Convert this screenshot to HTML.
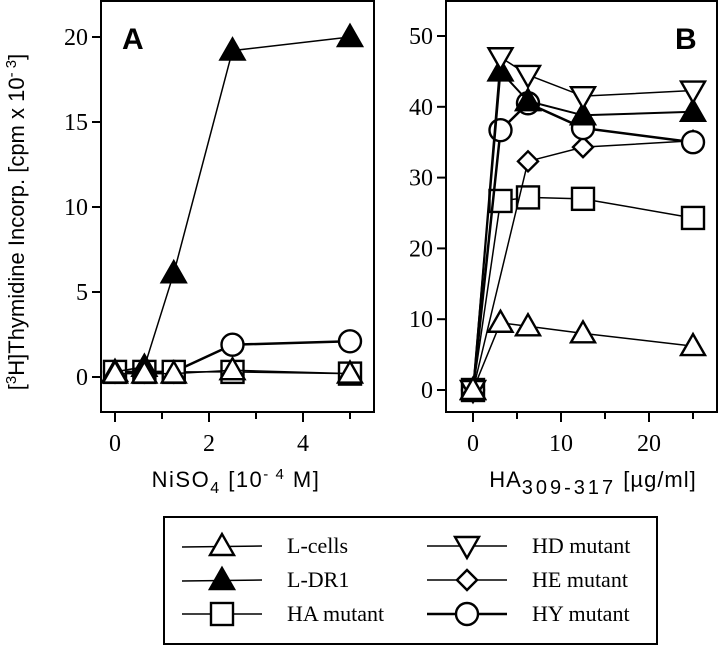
<!DOCTYPE html>
<html><head><meta charset="utf-8"><style>
body{margin:0;background:#fff;width:720px;height:646px;overflow:hidden}
svg{display:block}
.tk{font-family:"Liberation Serif",serif;font-size:24px}
.ax{font-family:"Liberation Sans",sans-serif;font-size:22px}
.lg{font-family:"Liberation Serif",serif;font-size:22px}
</style></head><body>
<svg id="c" width="720" height="646" xmlns="http://www.w3.org/2000/svg">
<rect x="101" y="1" width="273" height="411" fill="none" stroke="#000" stroke-width="2"/>
<rect x="446" y="1" width="271" height="411" fill="none" stroke="#000" stroke-width="2"/>
<text x="122" y="49" font-family="Liberation Sans,sans-serif" font-weight="bold" font-size="30">A</text>
<text x="675" y="49" font-family="Liberation Sans,sans-serif" font-weight="bold" font-size="30">B</text>
<text class="ax" transform="translate(24,222) rotate(-90)" text-anchor="middle" font-size="22">[<tspan font-size="15" dy="-8">3</tspan><tspan dy="8">H]Thymidine Incorp. [cpm x 10</tspan><tspan font-size="15" dy="-8">- 3</tspan><tspan dy="8">]</tspan></text>
<text class="ax" x="236" y="487" text-anchor="middle" letter-spacing="1.5">NiSO<tspan font-size="16" dy="6">4</tspan><tspan dy="-6"> [10</tspan><tspan font-size="15" dy="-8">- 4</tspan><tspan dy="8"> M]</tspan></text>
<text class="ax" x="593" y="487" text-anchor="middle" letter-spacing="1">HA<tspan font-size="20" dy="7" letter-spacing="3">309-317</tspan><tspan dy="-7"> [µg/ml]</tspan></text>
<rect x="164" y="517" width="493" height="127" fill="none" stroke="#000" stroke-width="2"/>
<g id="g"></g>
</svg>
<script>
// Panel A data
const xA = [0, 0.625, 1.25, 2.5, 5];
const aLcells = [0.2, 0.2, 0.2, 0.4, 0.2];
const aLDR1 = [0.3, 0.6, 6.1, 19.2, 20];
const aHA = [0.3, 0.3, 0.3, 0.3, 0.2];
const aHY = [0.3, 0.3, 0.3, 1.9, 2.1];
const yTicksA = [0, 5, 10, 15, 20];
const xTicksA = [0, 2, 4];
const xMinorA = [1, 3, 5];
// Panel B data
const xB = [0, 3.125, 6.25, 12.5, 25];
const bLcells = [0, 9.5, 9, 8, 6.2];
const bLDR1 = [0, 45, 40.8, 38.8, 39.3];
const bHA = [0, 26.7, 27.2, 27, 24.3];
const bHD = [0, 47, 44.5, 41.5, 42.3];
const bHE = [0, null, 32.3, 34.3, 35.2];
const bHY = [0, 36.7, 40.5, 37, 35];
const yTicksB = [0, 10, 20, 30, 40, 50];
const xTicksB = [0, 10, 20];
const xMinorB = [5, 15, 25];
const legendNames = ["L-cells","L-DR1","HA mutant","HD mutant","HE mutant","HY mutant"];

const NS="http://www.w3.org/2000/svg", g=document.getElementById('g');
const xa=v=>115+v*47, ya=v=>377-v*17;
const xb=v=>473+v*8.8, yb=v=>390-v*7.08;
function mk(t,at,p){const e=document.createElementNS(NS,t);for(const k in at)e.setAttribute(k,at[k]);(p||g).appendChild(e);return e;}
function marker(type,x,y){
  let e;const s={stroke:'#000','stroke-width':2.4,fill:'#fff'};
  if(type==='tri'||type==='ftri'){e=mk('polygon',Object.assign({},s,{points:`${x},${y-12} ${x-12},${y+9} ${x+12},${y+9}`}));if(type==='ftri')e.setAttribute('fill','#000');}
  else if(type==='dtri'){e=mk('polygon',Object.assign({},s,{points:`${x},${y+12} ${x-12},${y-9} ${x+12},${y-9}`}));}
  else if(type==='sq'){e=mk('rect',Object.assign({},s,{x:x-11,y:y-11,width:22,height:22}));}
  else if(type==='dia'){e=mk('polygon',Object.assign({},s,{points:`${x},${y-10} ${x+10},${y} ${x},${y+10} ${x-10},${y}`}));}
  else {e=mk('circle',Object.assign({},s,{cx:x,cy:y,r:11}));}
  
  
}
function series(xs,ys,fx,fy,type,name,w){
  const pts=[];xs.forEach((x,i)=>{if(ys[i]!=null)pts.push(fx(x)+','+fy(ys[i]));});
  const l=mk('polyline',{points:pts.join(' '),fill:'none',stroke:'#000','stroke-width':w||1.5});
  
  
  xs.forEach((x,i)=>{if(ys[i]!=null)marker(type,fx(x),fy(ys[i]));});
}
function axes(yt,xt,xm,fx,fy,left){
  yt.forEach(v=>{mk('line',{x1:left-9,x2:left,y1:fy(v),y2:fy(v),stroke:'#000','stroke-width':2});
    const t=mk('text',{x:left-13,y:fy(v)+8,'text-anchor':'end',class:'tk'});t.textContent=v;
    
    });
  xt.forEach(v=>{mk('line',{x1:fx(v),x2:fx(v),y1:412,y2:422,stroke:'#000','stroke-width':2});
    const t=mk('text',{x:fx(v),y:451,'text-anchor':'middle',class:'tk'});t.textContent=v;
    
    });
  xm.forEach(v=>mk('line',{x1:fx(v),x2:fx(v),y1:412,y2:419,stroke:'#000','stroke-width':2}));
}
axes(yTicksA,xTicksA,xMinorA,xa,ya,101);
axes(yTicksB,xTicksB,xMinorB,xb,yb,446);
series(xA,aHY,xa,ya,'circ','a-hy',2.5);
series(xA,aHA,xa,ya,'sq','a-ha');
series(xA,aLDR1,xa,ya,'ftri','a-ldr1');
series(xA,aLcells,xa,ya,'tri','a-lcells');
series(xB,bHA,xb,yb,'sq','b-ha');
series(xB,bHE,xb,yb,'dia','b-he');
series(xB,bHY,xb,yb,'circ','b-hy',2.5);
series(xB,bLDR1,xb,yb,'ftri','b-ldr1',2);
series(xB,bHD,xb,yb,'dtri','b-hd');
series(xB,bLcells,xb,yb,'tri','b-lcells');
const types=['tri','ftri','sq','dtri','dia','circ'];
legendNames.forEach((n,i)=>{
  const col=Math.floor(i/3),row=i%3,lx=col?427:182,y=546+row*34;
  mk('line',{x1:lx,x2:lx+80,y1:y+(types[i]==='tri'||types[i]==='ftri'?1:0),y2:y,stroke:'#000','stroke-width':types[i]==='circ'?2.5:1.5});
  marker(types[i],lx+40,y);
  const t=mk('text',{x:col?532:287,y:y+7,class:'lg'});t.textContent=n;
  
  
});
</script>
</body></html>
